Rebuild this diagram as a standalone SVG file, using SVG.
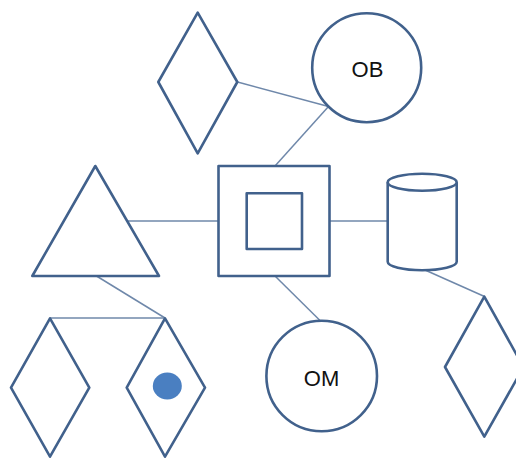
<svg xmlns="http://www.w3.org/2000/svg" width="516" height="458" viewBox="0 0 516 458">
<style>
.s{fill:#fff;stroke:#41618c;stroke-width:2.6;stroke-linejoin:round}
.c{fill:none;stroke:#6f88aa;stroke-width:1.5}
.t{font-family:"Liberation Sans",Arial,sans-serif;font-size:22px;fill:#111;text-anchor:middle;dominant-baseline:central}
</style>
<rect width="516" height="458" fill="#fff"/>
<g id="connectors">
<line class="c" x1="237.5" y1="82" x2="328.5" y2="106.5"/>
<line class="c" x1="328.5" y1="106.5" x2="275" y2="166"/>
<line class="c" x1="128" y1="221" x2="218.5" y2="221"/>
<line class="c" x1="329.5" y1="221" x2="387.5" y2="221"/>
<line class="c" x1="96.5" y1="276" x2="165" y2="318"/>
<line class="c" x1="50" y1="318" x2="165" y2="318"/>
<line class="c" x1="275" y1="276" x2="320" y2="320.5"/>
<line class="c" x1="425" y1="270" x2="484.5" y2="296.5"/>
</g>
<g id="diamondTop"><polygon class="s" points="197.7,12.7 237.3,82 197.7,153.3 158.3,82"/></g>
<g id="OB"><circle class="s" cx="366.7" cy="67.7" r="54.5"/><text class="t" x="367.5" y="69.5">OB</text></g>
<g id="triangle"><polygon class="s" points="95.3,166 159,276 32.3,276"/></g>
<g id="square"><rect class="s" x="218.5" y="166" width="111" height="110"/><rect class="s" x="246.7" y="193.3" width="55.3" height="55.7"/></g>
<g id="cylinder"><path class="s" d="M387.7,182.3 V261.7 A34.5,8.5 0 0 0 456.7,261.7 V182.3"/><ellipse class="s" cx="422.2" cy="182.3" rx="34.5" ry="8.5"/></g>
<g id="diamondL"><polygon class="s" points="50,318.3 89.3,387.7 50,456.7 11,387.7"/></g>
<g id="diamondDot"><polygon class="s" points="165,318.3 205,387.7 165,456.7 126.7,387.7"/><ellipse cx="167.3" cy="386" rx="14.5" ry="13.5" fill="#4a7fc1"/></g>
<g id="OM"><circle class="s" cx="321.7" cy="376" r="55.3"/><text class="t" x="321.5" y="378">OM</text></g>
<g id="diamondR"><polygon class="s" points="484.3,296.7 523.5,367 484.3,436.7 445,367"/></g>
</svg>
